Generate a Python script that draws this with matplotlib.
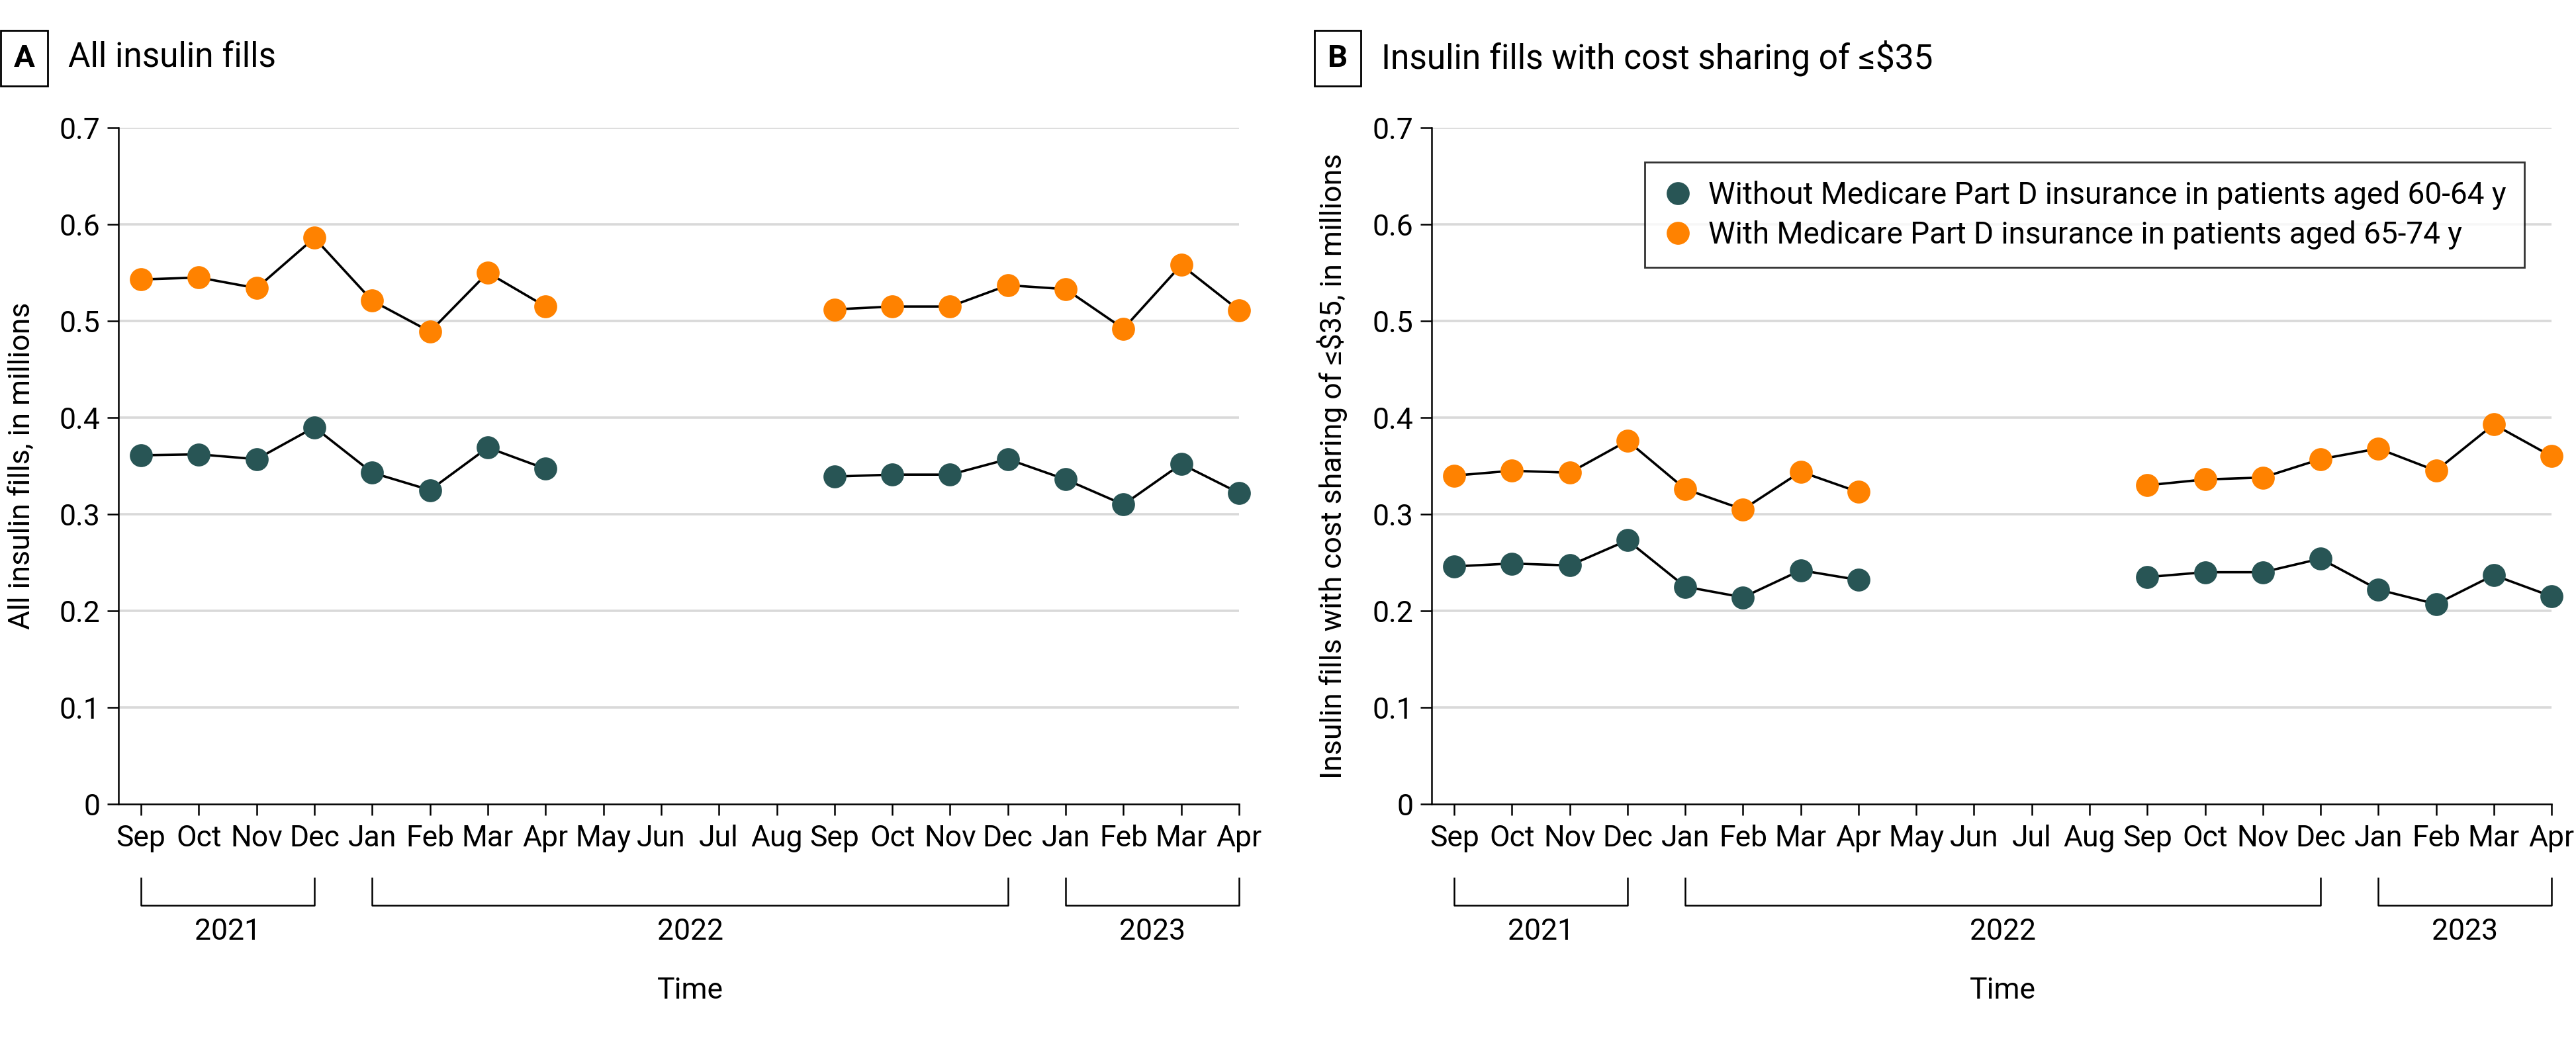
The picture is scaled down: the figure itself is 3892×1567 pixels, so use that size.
import numpy as np
import matplotlib
matplotlib.use('Agg')
import matplotlib.pyplot as plt
from matplotlib.lines import Line2D
from matplotlib.transforms import blended_transform_factory

plt.rcParams['font.family'] = ['Roboto', 'DejaVu Sans']

# months Sep 2021 .. Apr 2023 (May-Aug 2022 have no data)
months = ['Sep', 'Oct', 'Nov', 'Dec', 'Jan', 'Feb', 'Mar', 'Apr', 'May', 'Jun',
          'Jul', 'Aug', 'Sep', 'Oct', 'Nov', 'Dec', 'Jan', 'Feb', 'Mar', 'Apr']
years = ['2021', '2022', '2023']
year_spans = [(0, 3), (4, 15), (16, 19)]

nan = np.nan
# Panel A: all insulin fills, millions
all_without = [0.361, 0.362, 0.357, 0.390, 0.343, 0.325, 0.369, 0.347,
               nan, nan, nan, nan,
               0.339, 0.341, 0.341, 0.357, 0.336, 0.310, 0.352, 0.322]
all_with = [0.543, 0.545, 0.534, 0.586, 0.521, 0.489, 0.550, 0.515,
            nan, nan, nan, nan,
            0.512, 0.515, 0.515, 0.537, 0.533, 0.492, 0.558, 0.511]
# Panel B: fills with cost sharing <= $35, millions
cs_without = [0.246, 0.249, 0.247, 0.273, 0.225, 0.214, 0.242, 0.232,
              nan, nan, nan, nan,
              0.235, 0.240, 0.240, 0.254, 0.222, 0.207, 0.237, 0.215]
cs_with = [0.340, 0.345, 0.343, 0.376, 0.326, 0.305, 0.344, 0.323,
           nan, nan, nan, nan,
           0.330, 0.336, 0.338, 0.357, 0.368, 0.345, 0.393, 0.360]

labels = ['Without Medicare Part D insurance in patients aged 60-64 y',
          'With Medicare Part D insurance in patients aged 65-74 y']
teal = '#285555'
orange = '#ff8200'
fs = 32

fig = plt.figure(figsize=(38.92, 15.67), dpi=100)
axA = fig.add_axes([0.0460, 0.2246, 0.4350, 0.6522])
axB = fig.add_axes([0.5558, 0.2246, 0.4347, 0.6522])

panels = [(axA, all_without, all_with, 'All insulin fills, in millions', -0.074),
          (axB, cs_without, cs_with, 'Insulin fills with cost sharing of ≤$35, in millions', -0.075)]

x = np.arange(len(months))
for ax, s1, s2, ylab, labx in panels:
    for s, c in [(s1, teal), (s2, orange)]:
        ax.plot(x, s, color='black', lw=2.6, zorder=3, clip_on=False)
        ax.plot(x, s, linestyle='none', marker='o', ms=25, color=c,
                markeredgewidth=0, zorder=4, clip_on=False)
    ax.set_xlim(-0.39, 19)
    ax.set_ylim(0, 0.7)
    ax.set_yticks(np.arange(0, 0.71, 0.1))
    ax.set_yticklabels(['0', '0.1', '0.2', '0.3', '0.4', '0.5', '0.6', '0.7'])
    ax.set_xticks(x)
    ax.set_xticklabels(months)
    for yv in np.arange(0.1, 0.71, 0.1):
        ax.axhline(yv, color='#d9d9d9', lw=2.6, zorder=1)
    ax.spines['top'].set_visible(False)
    ax.spines['right'].set_visible(False)
    ax.spines['left'].set_linewidth(1.8)
    ax.spines['bottom'].set_linewidth(1.8)
    ax.tick_params(axis='both', labelsize=fs, length=12, width=1.8, direction='out')
    ax.tick_params(axis='x', pad=10)
    ax.tick_params(axis='y', pad=8)
    ax.set_ylabel(ylab, fontsize=fs)
    ax.yaxis.set_label_coords(labx, 0.5)

    # year brackets under the month labels
    tr = blended_transform_factory(ax.transData, fig.transFigure)
    for yr, (a, b) in zip(years, year_spans):
        ax.plot([a, a, b, b], [0.1532, 0.127, 0.127, 0.1532], color='black',
                lw=1.8, transform=tr, clip_on=False)
        ax.text((a + b) / 2, 0.1015, yr, transform=tr, ha='center', va='center',
                fontsize=fs)
    ax.text(9.5, 0.0447, 'Time', transform=tr, ha='center', va='center', fontsize=fs)

# panel titles
for xbox, xt, letter, title in [(0.0094, 0.0265, 'A', 'All insulin fills'),
                                (0.5192, 0.5362, 'B', 'Insulin fills with cost sharing of ≤$35')]:
    fig.text(xbox, 0.944, letter, fontsize=fs + 2, fontweight='bold', ha='center', va='center',
             bbox=dict(boxstyle='square,pad=0.42', fc='white', ec='black', lw=2))
    fig.text(xt, 0.944, title, fontsize=37, ha='left', va='center')

handles = [Line2D([], [], linestyle='none', marker='o', ms=25, color=teal, markeredgewidth=0),
           Line2D([], [], linestyle='none', marker='o', ms=25, color=orange, markeredgewidth=0)]
leg = axB.legend(handles, labels, loc='upper right', bbox_to_anchor=(0.976, 0.949),
                 borderaxespad=0, fontsize=33, frameon=True, fancybox=False,
                 edgecolor='black', handletextpad=0.5, borderpad=0.6,
                 labelspacing=0.35, handlelength=1.0)
leg.get_frame().set_linewidth(2)

fig.savefig('out.png', dpi=100, facecolor='white')
